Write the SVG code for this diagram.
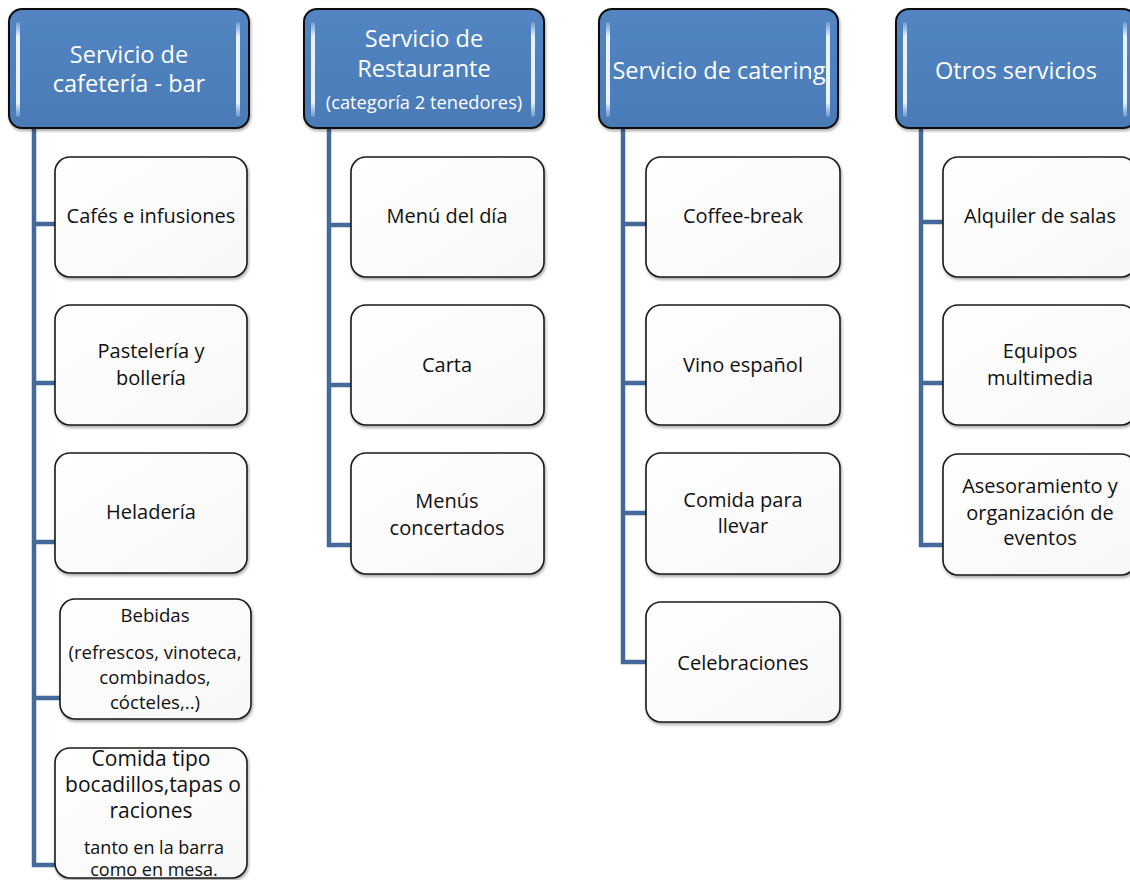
<svg xmlns="http://www.w3.org/2000/svg" width="1130" height="880" viewBox="0 0 1130 880">
<defs>
<linearGradient id="hdrGrad" x1="0" y1="0" x2="0" y2="1">
<stop offset="0" stop-color="#5285C2"/>
<stop offset="1" stop-color="#4A7BB7"/>
</linearGradient>
<linearGradient id="childGrad" x1="0" y1="0" x2="1" y2="1">
<stop offset="0" stop-color="#FFFFFF"/>
<stop offset="1" stop-color="#F7F7F7"/>
</linearGradient>
<linearGradient id="barGrad" x1="0" y1="0" x2="0" y2="1">
<stop offset="0" stop-color="#BFD8F2" stop-opacity="0.3"/>
<stop offset="0.15" stop-color="#E8F3FD"/>
<stop offset="0.85" stop-color="#E8F3FD"/>
<stop offset="1" stop-color="#BFD8F2" stop-opacity="0.3"/>
</linearGradient>
<filter id="shadow" x="-10%" y="-10%" width="120%" height="120%">
<feDropShadow dx="1" dy="2" stdDeviation="1.5" flood-color="#000" flood-opacity="0.35"/>
</filter>
</defs>
<style>
.hdr{fill:url(#hdrGrad);stroke:#111;stroke-width:2;filter:url(#shadow)}
.bar{fill:url(#barGrad)}
.child{fill:url(#childGrad);stroke:#1a1a1a;stroke-width:1.6;filter:url(#shadow)}
.conn{fill:none;stroke:#46699C;stroke-width:4.5;stroke-linejoin:miter}
.ht{font-family:"Open Sans",Lato,"Liberation Sans",sans-serif;font-size:23.5px;fill:#FFFFFF;text-anchor:middle}
.hs{font-family:"Open Sans",Lato,"Liberation Sans",sans-serif;font-size:18.3px;fill:#FFFFFF;text-anchor:middle}
.ct{font-family:"Open Sans",Lato,"Liberation Sans",sans-serif;font-size:20px;fill:#111;text-anchor:middle}
.cb{font-family:"Open Sans",Lato,"Liberation Sans",sans-serif;font-size:18.6px;fill:#111;text-anchor:middle}
.cl{font-family:"Open Sans",Lato,"Liberation Sans",sans-serif;font-size:21px;fill:#111;text-anchor:middle}
.cs{font-family:"Open Sans",Lato,"Liberation Sans",sans-serif;font-size:18px;fill:#111;text-anchor:middle}
</style>

<g id="connectors">
<path class="conn" d="M34 128 V865 H56 M34 224 H56 M34 383 H56 M34 542 H56 M34 698 H60"/>
<path class="conn" d="M329 128 V545 H352 M329 225 H352 M329 385 H352"/>
<path class="conn" d="M623 128 V662 H647 M623 224 H647 M623 383 H647 M623 513 H647"/>
<path class="conn" d="M921 128 V545 H944 M921 222 H944 M921 383 H944"/>
</g>

<g id="h1">
<rect class="hdr" x="9" y="9" width="240" height="119" rx="13"/>
<rect class="bar" x="16" y="22" width="4" height="95" rx="2"/>
<rect class="bar" x="236" y="22" width="4" height="95" rx="2"/>
<text class="ht" x="129" y="63">Servicio de</text>
<text class="ht" x="129" y="92">cafetería - bar</text>
</g>
<g id="h2">
<rect class="hdr" x="304" y="9" width="240" height="119" rx="13"/>
<rect class="bar" x="311" y="22" width="4" height="95" rx="2"/>
<rect class="bar" x="531" y="22" width="4" height="95" rx="2"/>
<text class="ht" x="424" y="47">Servicio de</text>
<text class="ht" x="424" y="77">Restaurante</text>
<text class="hs" x="424" y="109">(categoría 2 tenedores)</text>
</g>
<g id="h3">
<rect class="hdr" x="599" y="9" width="239" height="119" rx="13"/>
<rect class="bar" x="606" y="22" width="4" height="95" rx="2"/>
<rect class="bar" x="826" y="22" width="4" height="95" rx="2"/>
<text class="ht" x="719" y="79">Servicio de catering</text>
</g>
<g id="h4">
<rect class="hdr" x="896" y="9" width="240" height="119" rx="13"/>
<rect class="bar" x="903" y="22" width="4" height="95" rx="2"/>
<rect class="bar" x="1123" y="22" width="4" height="95" rx="2"/>
<text class="ht" x="1016" y="79">Otros servicios</text>
</g>

<g id="c1a">
<rect class="child" x="55" y="157" width="192" height="120" rx="15"/>
<text class="ct" x="151" y="223">Cafés e infusiones</text>
</g>
<g id="c1b">
<rect class="child" x="55" y="305" width="192" height="120" rx="15"/>
<text class="ct" x="151" y="358">Pastelería y</text>
<text class="ct" x="151" y="385">bollería</text>
</g>
<g id="c1c">
<rect class="child" x="55" y="453" width="192" height="120" rx="15"/>
<text class="ct" x="151" y="519">Heladería</text>
</g>
<g id="c1d">
<rect class="child" x="60" y="599" width="191" height="120" rx="15"/>
<text class="cb" x="155" y="622">Bebidas</text>
<text class="cb" x="155" y="659">(refrescos, vinoteca,</text>
<text class="cb" x="155" y="684">combinados,</text>
<text class="cb" x="155" y="709">cócteles,..)</text>
</g>
<g id="c1e">
<rect class="child" x="55" y="748" width="192" height="130" rx="15"/>
<text class="cl" x="151" y="766">Comida tipo</text>
<text class="cl" x="153" y="792">bocadillos,tapas o</text>
<text class="cl" x="151" y="818">raciones</text>
<text class="cs" x="154" y="854">tanto en la barra</text>
<text class="cs" x="154" y="876">como en mesa.</text>
</g>

<g id="c2a">
<rect class="child" x="351" y="157" width="193" height="120" rx="15"/>
<text class="ct" x="447" y="223">Menú del día</text>
</g>
<g id="c2b">
<rect class="child" x="351" y="305" width="193" height="120" rx="15"/>
<text class="ct" x="447" y="372">Carta</text>
</g>
<g id="c2c">
<rect class="child" x="351" y="453" width="193" height="121" rx="15"/>
<text class="ct" x="447" y="508">Menús</text>
<text class="ct" x="447" y="535">concertados</text>
</g>

<g id="c3a">
<rect class="child" x="646" y="157" width="194" height="120" rx="15"/>
<text class="ct" x="743" y="223">Coffee-break</text>
</g>
<g id="c3b">
<rect class="child" x="646" y="305" width="194" height="120" rx="15"/>
<text class="ct" x="743" y="372">Vino español</text>
</g>
<g id="c3c">
<rect class="child" x="646" y="453" width="194" height="121" rx="15"/>
<text class="ct" x="743" y="507">Comida para</text>
<text class="ct" x="743" y="533">llevar</text>
</g>
<g id="c3d">
<rect class="child" x="646" y="602" width="194" height="120" rx="15"/>
<text class="ct" x="743" y="670">Celebraciones</text>
</g>

<g id="c4a">
<rect class="child" x="943" y="157" width="193" height="120" rx="15"/>
<text class="ct" x="1040" y="223">Alquiler de salas</text>
</g>
<g id="c4b">
<rect class="child" x="943" y="305" width="193" height="120" rx="15"/>
<text class="ct" x="1040" y="358">Equipos</text>
<text class="ct" x="1040" y="385">multimedia</text>
</g>
<g id="c4c">
<rect class="child" x="943" y="454" width="193" height="121" rx="15"/>
<text class="ct" x="1040" y="493">Asesoramiento y</text>
<text class="ct" x="1040" y="520">organización de</text>
<text class="ct" x="1040" y="545">eventos</text>
</g>
</svg>
